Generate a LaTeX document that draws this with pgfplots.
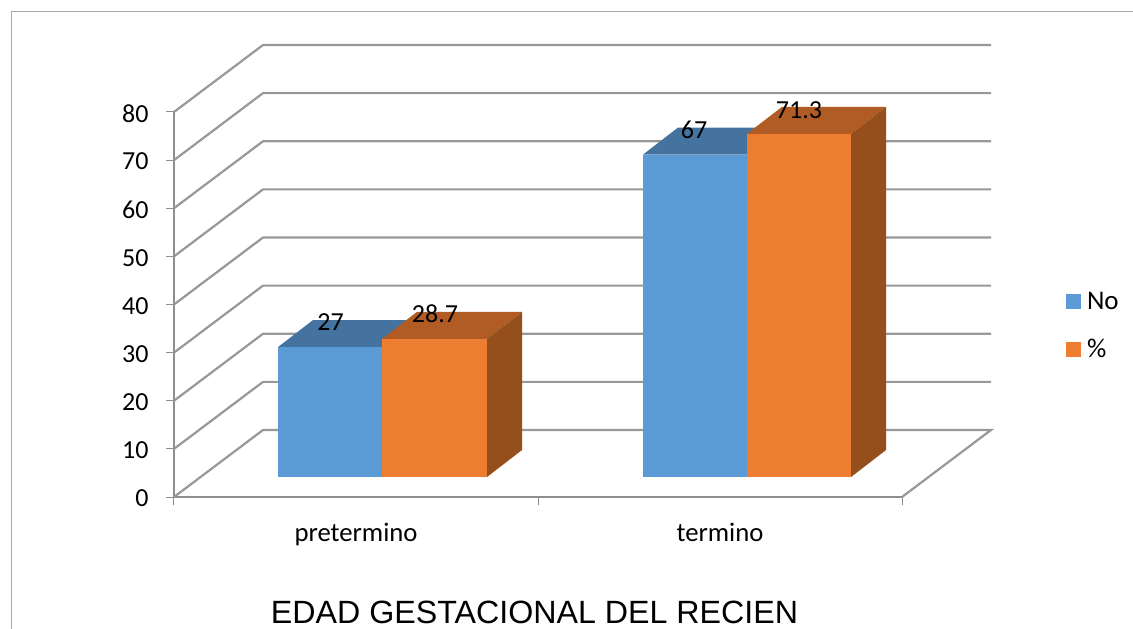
\documentclass[border=0pt]{standalone}
\usepackage{pgfplots}
\pgfplotsset{compat=1.18}
\usepackage{fontspec}
\setmainfont{Carlito}
\newfontfamily\arialf{Liberation Sans}
\definecolor{gridg}{HTML}{989898}
\definecolor{axisg}{HTML}{8E8E8E}
\definecolor{blueF}{HTML}{5B9BD5}
\definecolor{blueT}{HTML}{44739F}
\definecolor{orF}{HTML}{ED7D31}
\definecolor{orT}{HTML}{B15C24}
\definecolor{orS}{HTML}{954F1C}
\newcommand{\fs}[1]{\fontsize{#1}{#1}\selectfont}
\begin{document}
\begin{tikzpicture}[x=1pt,y=1pt]
\clip (-174pt,-132pt) rectangle (959pt,497pt);
\useasboundingbox (-174pt,-132pt) rectangle (959pt,497pt);
\begin{axis}[
  at={(0pt,0pt)}, anchor=origin,
  scale only axis, width=728pt, height=385pt,
  xmin=0, xmax=2, ymin=0, ymax=80,
  clip=false,
  axis x line=bottom, axis y line=left,
  axis line style={-, draw=axisg, line width=2.2pt},
  tick style={draw=axisg, line width=1pt},
  xtick={0,1,2}, xticklabels={,,},
  ytick={0,10,...,80},
  major tick length=8pt,
  tick align=outside,
  extra x ticks={0.5,1.5},
  extra x tick labels={pretermino,termino},
  extra x tick style={major tick length=0pt, tick style={draw=none},
     xticklabel style={yshift=-23pt}},
  tick label style={text=black},
  yticklabel style={font=\fs{26}, /pgf/number format/assume math mode=true, xshift=-14pt, yshift=-1.5pt},
  xticklabel style={font=\fs{26.7}},
  legend style={draw=none, fill=none, at={(axis cs:2.45,43)}, anchor=north west,
     font=\fs{27}, row sep=24pt, inner sep=0pt, legend cell align=left,
     /tikz/every even column/.append style={column sep=0pt}},
  legend image code/.code={\fill[#1, draw=none] (0pt,-7.5pt) rectangle (15pt,7.5pt);},
]
% back wall gridlines with their side-wall slants (value + 13.92 = depth of the floor)
\addplot[forget plot, draw=gridg, line width=2.2pt] coordinates {(2,0)(2.2445,13.92)(0.2445,13.92)(0,0)};
\addplot[forget plot, draw=gridg, line width=2.2pt] coordinates {(0,10)(0.2445,23.92)(2.2445,23.92)};
\addplot[forget plot, draw=gridg, line width=2.2pt] coordinates {(0,20)(0.2445,33.92)(2.2445,33.92)};
\addplot[forget plot, draw=gridg, line width=2.2pt] coordinates {(0,30)(0.2445,43.92)(2.2445,43.92)};
\addplot[forget plot, draw=gridg, line width=2.2pt] coordinates {(0,40)(0.2445,53.92)(2.2445,53.92)};
\addplot[forget plot, draw=gridg, line width=2.2pt] coordinates {(0,50)(0.2445,63.92)(2.2445,63.92)};
\addplot[forget plot, draw=gridg, line width=2.2pt] coordinates {(0,60)(0.2445,73.92)(2.2445,73.92)};
\addplot[forget plot, draw=gridg, line width=2.2pt] coordinates {(0,70)(0.2445,83.92)(2.2445,83.92)};
\addplot[forget plot, draw=gridg, line width=2.2pt] coordinates {(0,80)(0.2445,93.92)(2.2445,93.92)};
% first bar pair: No
\addplot[forget plot, draw=none, fill=blueT, yshift=20pt] coordinates {(0.2857,27)(0.5714,27)(0.6676,32.61)(0.3819,32.61)} -- cycle;
\addplot[forget plot, draw=none, fill=blueF, yshift=20pt] coordinates {(0.2857,0)(0.5714,0)(0.5714,27)(0.2857,27)} -- cycle;
% first bar pair: %
\addplot[forget plot, draw=none, fill=orT, yshift=20pt] coordinates {(0.5714,28.7)(0.8599,28.7)(0.9561,34.31)(0.6676,34.31)} -- cycle;
\addplot[forget plot, draw=none, fill=orS, yshift=20pt] coordinates {(0.8599,0)(0.9561,5.61)(0.9561,34.31)(0.8599,28.7)} -- cycle;
\addplot[forget plot, draw=none, fill=orF, yshift=20pt] coordinates {(0.5714,0)(0.8599,0)(0.8599,28.7)(0.5714,28.7)} -- cycle;
% second bar pair: No
\addplot[forget plot, draw=none, fill=blueT, yshift=20pt] coordinates {(1.2885,67)(1.574,67)(1.6702,72.61)(1.3847,72.61)} -- cycle;
\addplot[forget plot, draw=none, fill=blueF, yshift=20pt] coordinates {(1.2885,0)(1.574,0)(1.574,67)(1.2885,67)} -- cycle;
% second bar pair: %
\addplot[forget plot, draw=none, fill=orT, yshift=20pt] coordinates {(1.574,71.3)(1.860,71.3)(1.9562,76.91)(1.6702,76.91)} -- cycle;
\addplot[forget plot, draw=none, fill=orS, yshift=20pt] coordinates {(1.860,0)(1.9562,5.61)(1.9562,76.91)(1.860,71.3)} -- cycle;
\addplot[forget plot, draw=none, fill=orF, yshift=20pt] coordinates {(1.574,0)(1.860,0)(1.860,71.3)(1.574,71.3)} -- cycle;
% legend
\addlegendimage{fill=blueF}\addlegendentry{\hspace{4pt}No}
\addlegendimage{fill=orF}\addlegendentry{\hspace{4pt}\%}
% data labels
\node[font=\fs{26}] at (axis cs:0.4300,36.3) {27};
\node[font=\fs{26}] at (axis cs:0.7170,38.0) {28.7};
\node[font=\fs{26}] at (axis cs:1.4286,76.3) {67};
\node[font=\fs{26}] at (axis cs:1.7170,80.4) {71.3};
% title
\node[font=\arialf\fs{32.2}, anchor=base] at (axis cs:0.9905,-26.2) {EDAD GESTACIONAL DEL RECIEN};
\end{axis}
% page frame
\draw[draw=gridg!85!white, line width=1pt] (-162.5pt,-140pt) -- (-162.5pt,485.5pt) -- (965pt,485.5pt);
\end{tikzpicture}
\end{document}
